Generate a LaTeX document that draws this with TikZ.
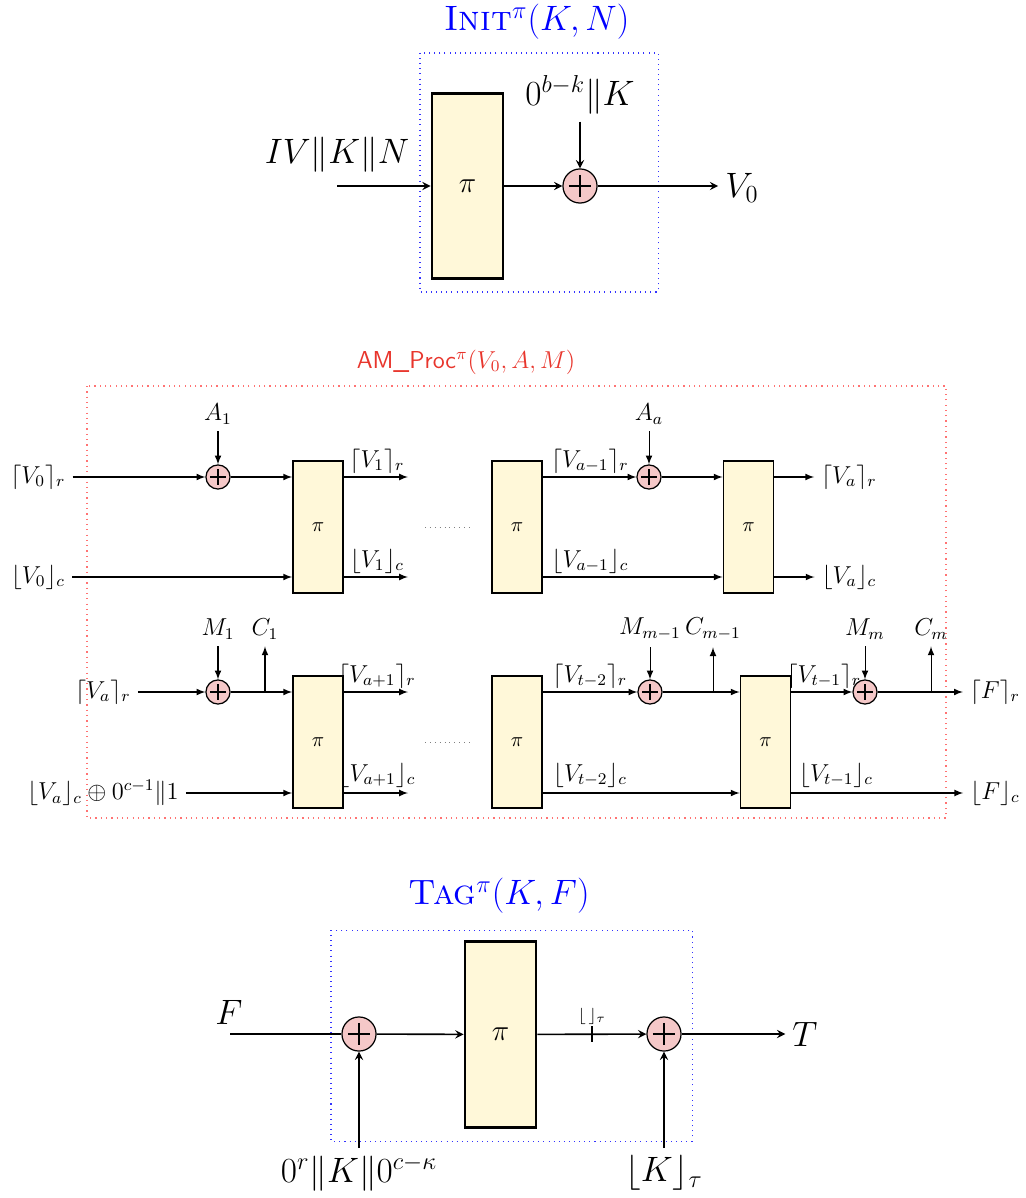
\documentclass[tikz,border=0pt]{standalone}
\usepackage{amsmath,amssymb}
\usepackage{tikz}

\definecolor{permfill}{HTML}{FFF8D9}
\definecolor{xorfill}{HTML}{F5C8C8}
\definecolor{procred}{HTML}{E8352C}

\tikzset{
  perm/.style={draw, line width=1.4pt, fill=permfill, minimum width=34.8pt,
    minimum height=91pt, inner sep=0pt, font=\Large},
  sperm/.style={draw, line width=0.9pt, fill=permfill, minimum width=24.5pt,
    minimum height=64.7pt, inner sep=0pt, font=\normalsize},
  xorop/.style={circle, draw, line width=0.6pt, fill=xorfill, minimum size=#1,
    inner sep=0pt, path picture={
      \draw[line width=0.7pt]
        ([yshift=0.33*#1]path picture bounding box.center) -- ([yshift=-0.33*#1]path picture bounding box.center)
        ([xshift=-0.33*#1]path picture bounding box.center) -- ([xshift=0.33*#1]path picture bounding box.center);}},
  bigarrow/.style={-stealth, line width=0.8pt},
  thinarrow/.style={-latex, line width=0.5pt}
}

\begin{document}
\begin{tikzpicture}[x=0.49pt, y=-0.49pt]
  \useasboundingbox (0,0) rectangle (1025,1198);

  % Init: one call of pi, then the key is added
  \node[blue, font=\LARGE] (ititle) at (537,22) {\textsc{Init}$^{\pi}(K,N)$};
  \draw[blue!80, dotted, line width=0.5pt] (420,53) rectangle (658,292);
  \node[perm] (p0) at (467.5,186) {$\pi$};
  \node[xorop=16.7pt] (x0) at (580,186) {};
  \node[font=\LARGE] (lin0) at (337,155) {$IV\|K\|N$};
  \node[font=\LARGE] (k0) at (580,95) {$0^{b-k}\|K$};
  \node[font=\LARGE] (v0) at (742,188) {$V_0$};
  \coordinate (in0) at (337,186);
  \draw[bigarrow] (in0) -- (p0);
  \draw[bigarrow] (p0) -- (x0);
  \draw[bigarrow] (k0) -- (x0);
  \draw[bigarrow] (x0) -- (x0 -| v0.west);

  % AM_Proc: absorbing A, then M
  \node[procred, font=\large] (mtitle) at (466,362) {\textsf{AM\_Proc}$^{\pi}(V_0,A,M)$};
  \draw[red!55, dotted, line width=0.6pt] (87,386) rectangle (946,818);
  \begin{scope}[font=\large]
    % associated data rows
    \node (lv0r) at (38,477) {$\lceil V_0\rceil_r$};
    \node (lv0c) at (38,577) {$\lfloor V_0\rfloor_c$};
    \node[xorop=11.8pt] (xa1) at (218,477) {};
    \node (a1) at (218,414) {$A_1$};
    \node[sperm] (p1) at (318,527) {$\pi$};
    \node (lv1r) at (377,461) {$\lceil V_1\rceil_r$};
    \node (lv1c) at (377,561) {$\lfloor V_1\rfloor_c$};
    \coordinate (o1r) at (408,477);
    \coordinate (o1c) at (408,577);
    \draw[gray, dotted] (425,527) -- (471,527);
    \node[sperm] (p2) at (517,527) {$\pi$};
    \node (lva1r) at (590,461) {$\lceil V_{a-1}\rceil_r$};
    \node (lva1c) at (590,561) {$\lfloor V_{a-1}\rfloor_c$};
    \node[xorop=11.8pt] (xa) at (649,477) {};
    \node (aa) at (649,414) {$A_a$};
    \node[sperm] (p3) at (748.5,527) {$\pi$};
    \node (lvar) at (849,477) {$\lceil V_a\rceil_r$};
    \node (lvac) at (849,577) {$\lfloor V_a\rfloor_c$};
    \draw[thinarrow] (lv0r) -- (xa1);
    \draw[thinarrow] (a1) -- (xa1);
    \draw[thinarrow] (xa1) -- (p1.west |- xa1);
    \draw[thinarrow] (lv0c) -- (p1.west |- lv0c);
    \draw[thinarrow] (p1.east |- o1r) -- (o1r);
    \draw[thinarrow] (p1.east |- o1c) -- (o1c);
    \draw[thinarrow] (p2.east |- xa) -- (xa);
    \draw[thinarrow] (aa) -- (xa);
    \draw[thinarrow] (xa) -- (p3.west |- xa);
    \draw[thinarrow] (p2.east |- lvac) -- (p3.west |- lvac);
    \draw[thinarrow] (p3.east |- lvar) -- (lvar);
    \draw[thinarrow] (p3.east |- lvac) -- (lvac);

    % message rows
    \node (lvar2) at (103,692) {$\lceil V_a\rceil_r$};
    \node (lvac2) at (103,793) {$\lfloor V_a\rfloor_c\oplus 0^{c-1}\|1$};
    \node[xorop=11.8pt] (xm1) at (218,692) {};
    \node (m1) at (218,629) {$M_1$};
    \node (c1) at (265,629) {$C_1$};
    \node[sperm] (p4) at (318,742) {$\pi$};
    \node (lva2r) at (377,676) {$\lceil V_{a+1}\rceil_r$};
    \node (lva2c) at (377,775) {$\lfloor V_{a+1}\rfloor_c$};
    \coordinate (o4r) at (408,692);
    \coordinate (o4c) at (408,793);
    \draw[gray, dotted] (425,742) -- (471,742);
    \node[sperm] (p5) at (517,742) {$\pi$};
    \node (lvt2r) at (590,676) {$\lceil V_{t-2}\rceil_r$};
    \node (lvt2c) at (590,775) {$\lfloor V_{t-2}\rfloor_c$};
    \node[xorop=11.8pt] (xm2) at (650,692) {};
    \node (mm1) at (650,629) {$M_{m-1}$};
    \node (cm1) at (713,629) {$C_{m-1}$};
    \node[sperm] (p6) at (765.5,742) {$\pi$};
    \node (lvt1r) at (824,676) {$\lceil V_{t-1}\rceil_r$};
    \node (lvt1c) at (836,775) {$\lfloor V_{t-1}\rfloor_c$};
    \node[xorop=11.8pt] (xm3) at (865,692) {};
    \node (mm) at (865,629) {$M_m$};
    \node (cm) at (931,629) {$C_m$};
    \node (lfr) at (995,692) {$\lceil F\rceil_r$};
    \node (lfc) at (995,793) {$\lfloor F\rfloor_c$};
    \draw[thinarrow] (lvar2) -- (xm1);
    \draw[thinarrow] (m1) -- (xm1);
    \draw[thinarrow] (xm1) -- (p4.west |- xm1);
    \draw[thinarrow] (c1 |- xm1) -- (c1);
    \draw[thinarrow] (lvac2) -- (p4.west |- lvac2);
    \draw[thinarrow] (p4.east |- o4r) -- (o4r);
    \draw[thinarrow] (p4.east |- o4c) -- (o4c);
    \draw[thinarrow] (p5.east |- xm2) -- (xm2);
    \draw[thinarrow] (mm1) -- (xm2);
    \draw[thinarrow] (xm2) -- (p6.west |- xm2);
    \draw[thinarrow] (cm1 |- xm2) -- (cm1);
    \draw[thinarrow] (p5.east |- lfc) -- (p6.west |- lfc);
    \draw[thinarrow] (p6.east |- xm3) -- (xm3);
    \draw[thinarrow] (mm) -- (xm3);
    \draw[thinarrow] (xm3) -- (lfr);
    \draw[thinarrow] (cm |- xm3) -- (cm);
    \draw[thinarrow] (p6.east |- lfc) -- (lfc);
  \end{scope}

  % Tag: key in, pi, truncated key out
  \node[blue, font=\LARGE] (ttitle) at (499,896) {\textsc{Tag}$^{\pi}(K,F)$};
  \draw[blue!80, dotted, line width=0.5pt] (331,930) rectangle (692,1141);
  \node[xorop=16.7pt] (x1) at (359,1034) {};
  \node[perm] (p7) at (500.5,1034.5) {$\pi$};
  \node[xorop=16.7pt] (x2) at (664,1034) {};
  \coordinate (fin) at (230,1034);
  \coordinate (tr) at (592,1034);
  \node[font=\LARGE] (lf) at (229,1012) {$F$};
  \node[font=\LARGE] (lt) at (805,1034) {$T$};
  \node[font=\LARGE] (kin) at (359,1173) {$0^r\|K\|0^{c-\kappa}$};
  \node[font=\LARGE] (kt) at (664,1173) {$\lfloor K\rfloor_\tau$};
  \node[font=\footnotesize] (ltr) at (592,1016) {$\lfloor\,\rfloor_\tau$};
  \draw[line width=0.8pt] (fin) -- (x1);
  \draw[bigarrow] (x1) -- (p7);
  \draw[bigarrow] (p7) -- (x2);
  \draw[line width=0.8pt] (tr) ++(0,-8) -- ++(0,16);
  \draw[bigarrow] (x2) -- (lt);
  \draw[bigarrow] (kin) -- (x1);
  \draw[bigarrow] (kt) -- (x2);
\end{tikzpicture}
\end{document}
